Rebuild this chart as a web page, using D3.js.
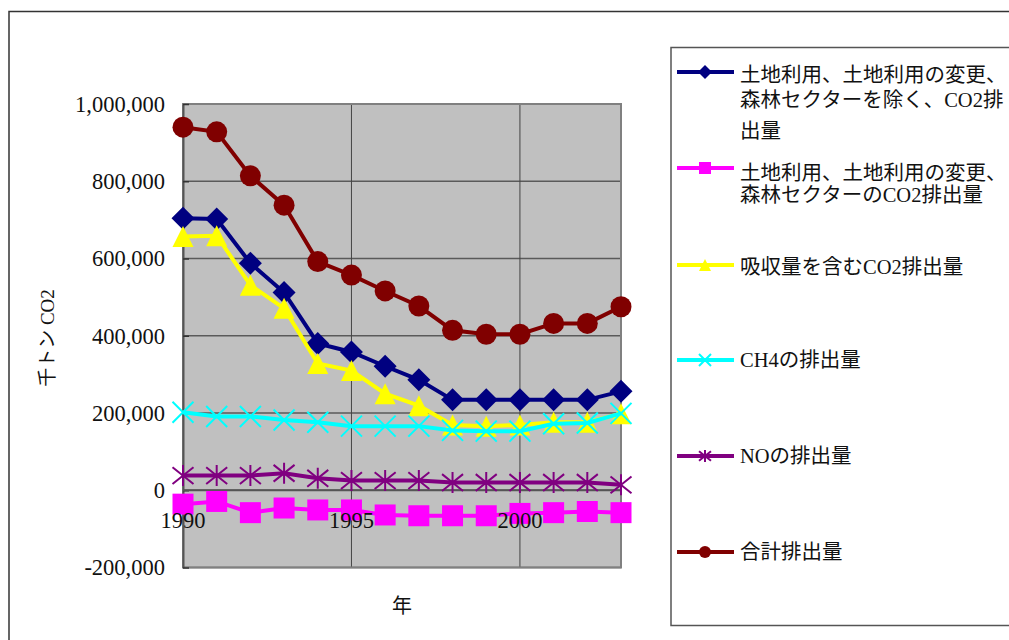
<!DOCTYPE html>
<html>
<head>
<meta charset="utf-8">
<script src="https://cdn.jsdelivr.net/npm/d3@7"></script>
<style>
    body { margin: 0; background: #fff; }
    svg text { font-family: "Liberation Serif", "Times New Roman", "Noto Sans CJK JP", serif; fill: #111; }
</style>
</head>
<body>
<div id="chart"></div>
<script>
// data (千トン CO2)
const years = [1990, 1991, 1992, 1993, 1994, 1995, 1996, 1997, 1998, 1999, 2000, 2001, 2002, 2003]
const year_labels = [1990, 1995, 2000]
const y_ticks = [-200000, 0, 200000, 400000, 600000, 800000, 1000000]

const co2_excl_lulucf = [704000, 702000, 588000, 512000, 380000, 358000, 321000, 286000, 234000, 234000, 234000, 234000, 234000, 256000]
const co2_lulucf      = [-36000, -29000, -58000, -46000, -51000, -51000, -64000, -66000, -66000, -66000, -60000, -58000, -55000, -58000]
const co2_incl_sinks  = [657000, 659000, 531000, 471000, 328000, 310000, 250000, 219000, 169000, 166000, 169000, 176000, 176000, 198000]
const ch4_emissions   = [202000, 191000, 191000, 182000, 176000, 166000, 166000, 166000, 155000, 153000, 153000, 172000, 174000, 199000]
const no_emissions    = [38000, 38000, 38000, 44000, 31000, 25000, 25000, 25000, 20000, 20000, 20000, 20000, 20000, 14000]
const total_emissions = [940000, 928000, 814000, 738000, 592000, 557000, 516000, 477000, 414000, 404000, 404000, 432000, 432000, 475000]

const legend_labels = [
    ["土地利用、土地利用の変更、", "森林セクターを除く、CO2排", "出量"],
    ["土地利用、土地利用の変更、", "森林セクターのCO2排出量"],
    ["吸収量を含むCO2排出量"],
    ["CH4の排出量"],
    ["NOの排出量"],
    ["合計排出量"]
]
const line_colors = ["#000080", "#ff00ff", "#ffff00", "#00ffff", "#800080", "#800000"]
const marker_types = ["diamond", "square", "triangle", "cross", "star", "circle"]
const series = [co2_excl_lulucf, co2_lulucf, co2_incl_sinks, ch4_emissions, no_emissions, total_emissions]

const W = 1009, H = 640
const plot = {left: 183, right: 621, top: 104, bottom: 567.5}

let svg = d3.select("#chart")
    .append("svg")
    .attr("width", W)
    .attr("height", H)

// chart frame
svg.append("rect")
    .attr("x", 9).attr("y", 11.5)
    .attr("width", W + 20).attr("height", H + 20)
    .attr("fill", "#fff")
    .attr("stroke", "#333")
    .attr("stroke-width", 1.5)

const x = d3.scalePoint()
    .domain(years)
    .range([plot.left, plot.right])
const y = d3.scaleLinear()
    .domain([-200000, 1000000])
    .range([plot.bottom, plot.top])

// plot area
svg.append("rect")
    .attr("x", plot.left).attr("y", plot.top)
    .attr("width", plot.right - plot.left)
    .attr("height", plot.bottom - plot.top)
    .attr("fill", "#c0c0c0")

// horizontal gridlines
svg.append("g")
    .selectAll("line")
    .data(y_ticks)
    .join("line")
    .attr("x1", plot.left).attr("x2", plot.right)
    .attr("y1", d => y(d)).attr("y2", d => y(d))
    .attr("stroke", "#5a5a5a")
    .attr("stroke-width", 1.5)

// vertical gridlines
svg.append("g")
    .selectAll("line")
    .data(year_labels.slice(1))
    .join("line")
    .attr("x1", d => x(d)).attr("x2", d => x(d))
    .attr("y1", plot.top).attr("y2", plot.bottom)
    .attr("stroke", "#444")
    .attr("stroke-width", 1)

// plot border
svg.append("rect")
    .attr("x", plot.left).attr("y", plot.top)
    .attr("width", plot.right - plot.left)
    .attr("height", plot.bottom - plot.top)
    .attr("fill", "none")
    .attr("stroke", "#808080")
    .attr("stroke-width", 2)

// y axis
svg.append("g")
    .attr("transform", "translate(" + plot.left + ",0)")
    .call(d3.axisRight(y)
        .tickValues(y_ticks)
        .tickSizeInner(6)
        .tickSizeOuter(0)
        .tickFormat(""))
    .call(g => g.select(".domain").attr("stroke", "#555").attr("stroke-width", 2))
    .call(g => g.selectAll(".tick line").attr("stroke", "#333").attr("stroke-width", 1.5))

svg.append("g")
    .selectAll("text")
    .data(y_ticks)
    .join("text")
    .attr("x", 165)
    .attr("y", d => y(d))
    .attr("dy", "0.35em")
    .attr("text-anchor", "end")
    .style("font-size", "22.5px")
    .text(d => d3.format(",")(d).replace("−", "-"))

// x axis at zero
svg.append("line")
    .attr("x1", plot.left).attr("x2", plot.right)
    .attr("y1", y(0)).attr("y2", y(0))
    .attr("stroke", "#555")
    .attr("stroke-width", 2)

// series lines + markers
function marker_path(type, s) {
    const h = s / 2
    if (type === "diamond") return `M0,${-h - 1}L${h + 1},0L0,${h + 1}L${-h - 1},0Z`
    if (type === "square") return `M${-h},${-h}H${h}V${h}H${-h}Z`
    if (type === "triangle") return `M0,${-h}L${h},${h}L${-h},${h}Z`
    if (type === "cross") return `M${-h},${-h}L${h},${h}M${h},${-h}L${-h},${h}`
    if (type === "star") return `M${-h},${-h * 0.8}L${h},${h * 0.8}M${h},${-h * 0.8}L${-h},${h * 0.8}M0,${-h}V${h}`
    return ""
}

function draw_marker(g, type, color, cx, cy, s) {
    if (type === "circle") {
        g.append("circle")
            .attr("cx", cx).attr("cy", cy).attr("r", s / 2)
            .attr("fill", color)
    } else if (type === "cross" || type === "star") {
        g.append("path")
            .attr("transform", "translate(" + cx + "," + cy + ")")
            .attr("d", marker_path(type, s))
            .attr("fill", "none")
            .attr("stroke", color)
            .attr("stroke-width", 2)
    } else {
        g.append("path")
            .attr("transform", "translate(" + cx + "," + cy + ")")
            .attr("d", marker_path(type, s))
            .attr("fill", color)
    }
}

const line = d3.line()
    .x((d, i) => x(years[i]))
    .y(d => y(d))

for (let i = 0; i < series.length; i++) {
    let g = svg.append("g")
    g.append("path")
        .datum(series[i])
        .attr("fill", "none")
        .attr("stroke", line_colors[i])
        .attr("stroke-width", 4)
        .attr("d", line)
    series[i].forEach((v, k) => {
        draw_marker(g, marker_types[i], line_colors[i], x(years[k]), y(v), 21)
    })
}

// x labels
svg.append("g")
    .selectAll("text")
    .data(year_labels)
    .join("text")
    .attr("x", d => x(d))
    .attr("y", y(0) + 38)
    .attr("text-anchor", "middle")
    .style("font-size", "22.5px")
    .text(d => d)

// axis titles
svg.append("text")
    .attr("transform", "translate(54,338) rotate(-90)")
    .attr("text-anchor", "middle")
    .style("font-size", "19px")
    .text("千トン CO2")

svg.append("text")
    .attr("x", 402)
    .attr("y", 613)
    .attr("text-anchor", "middle")
    .style("font-size", "20px")
    .text("年")

// legend
svg.append("rect")
    .attr("x", 671).attr("y", 47.5)
    .attr("width", 400).attr("height", 578)
    .attr("fill", "#fff")
    .attr("stroke", "#555")
    .attr("stroke-width", 1.5)

const legend_y = [72, 168, 265, 360, 456, 552]
const legend_row_dy = [[3, 28, 59], [5, 27], [2], [0], [0], [0]]

for (let i = 0; i < legend_labels.length; i++) {
    let g = svg.append("g")
    g.append("line")
        .attr("x1", 677).attr("x2", 734)
        .attr("y1", legend_y[i]).attr("y2", legend_y[i])
        .attr("stroke", line_colors[i])
        .attr("stroke-width", 4)
    draw_marker(g, marker_types[i], line_colors[i], 705, legend_y[i], 12)
    legend_labels[i].forEach((t, k) => {
        g.append("text")
            .attr("x", 740)
            .attr("y", legend_y[i] + legend_row_dy[i][k])
            .attr("dy", "0.35em")
            .style("font-size", "20.5px")
            .text(t)
    })
}
</script>
</body>
</html>
